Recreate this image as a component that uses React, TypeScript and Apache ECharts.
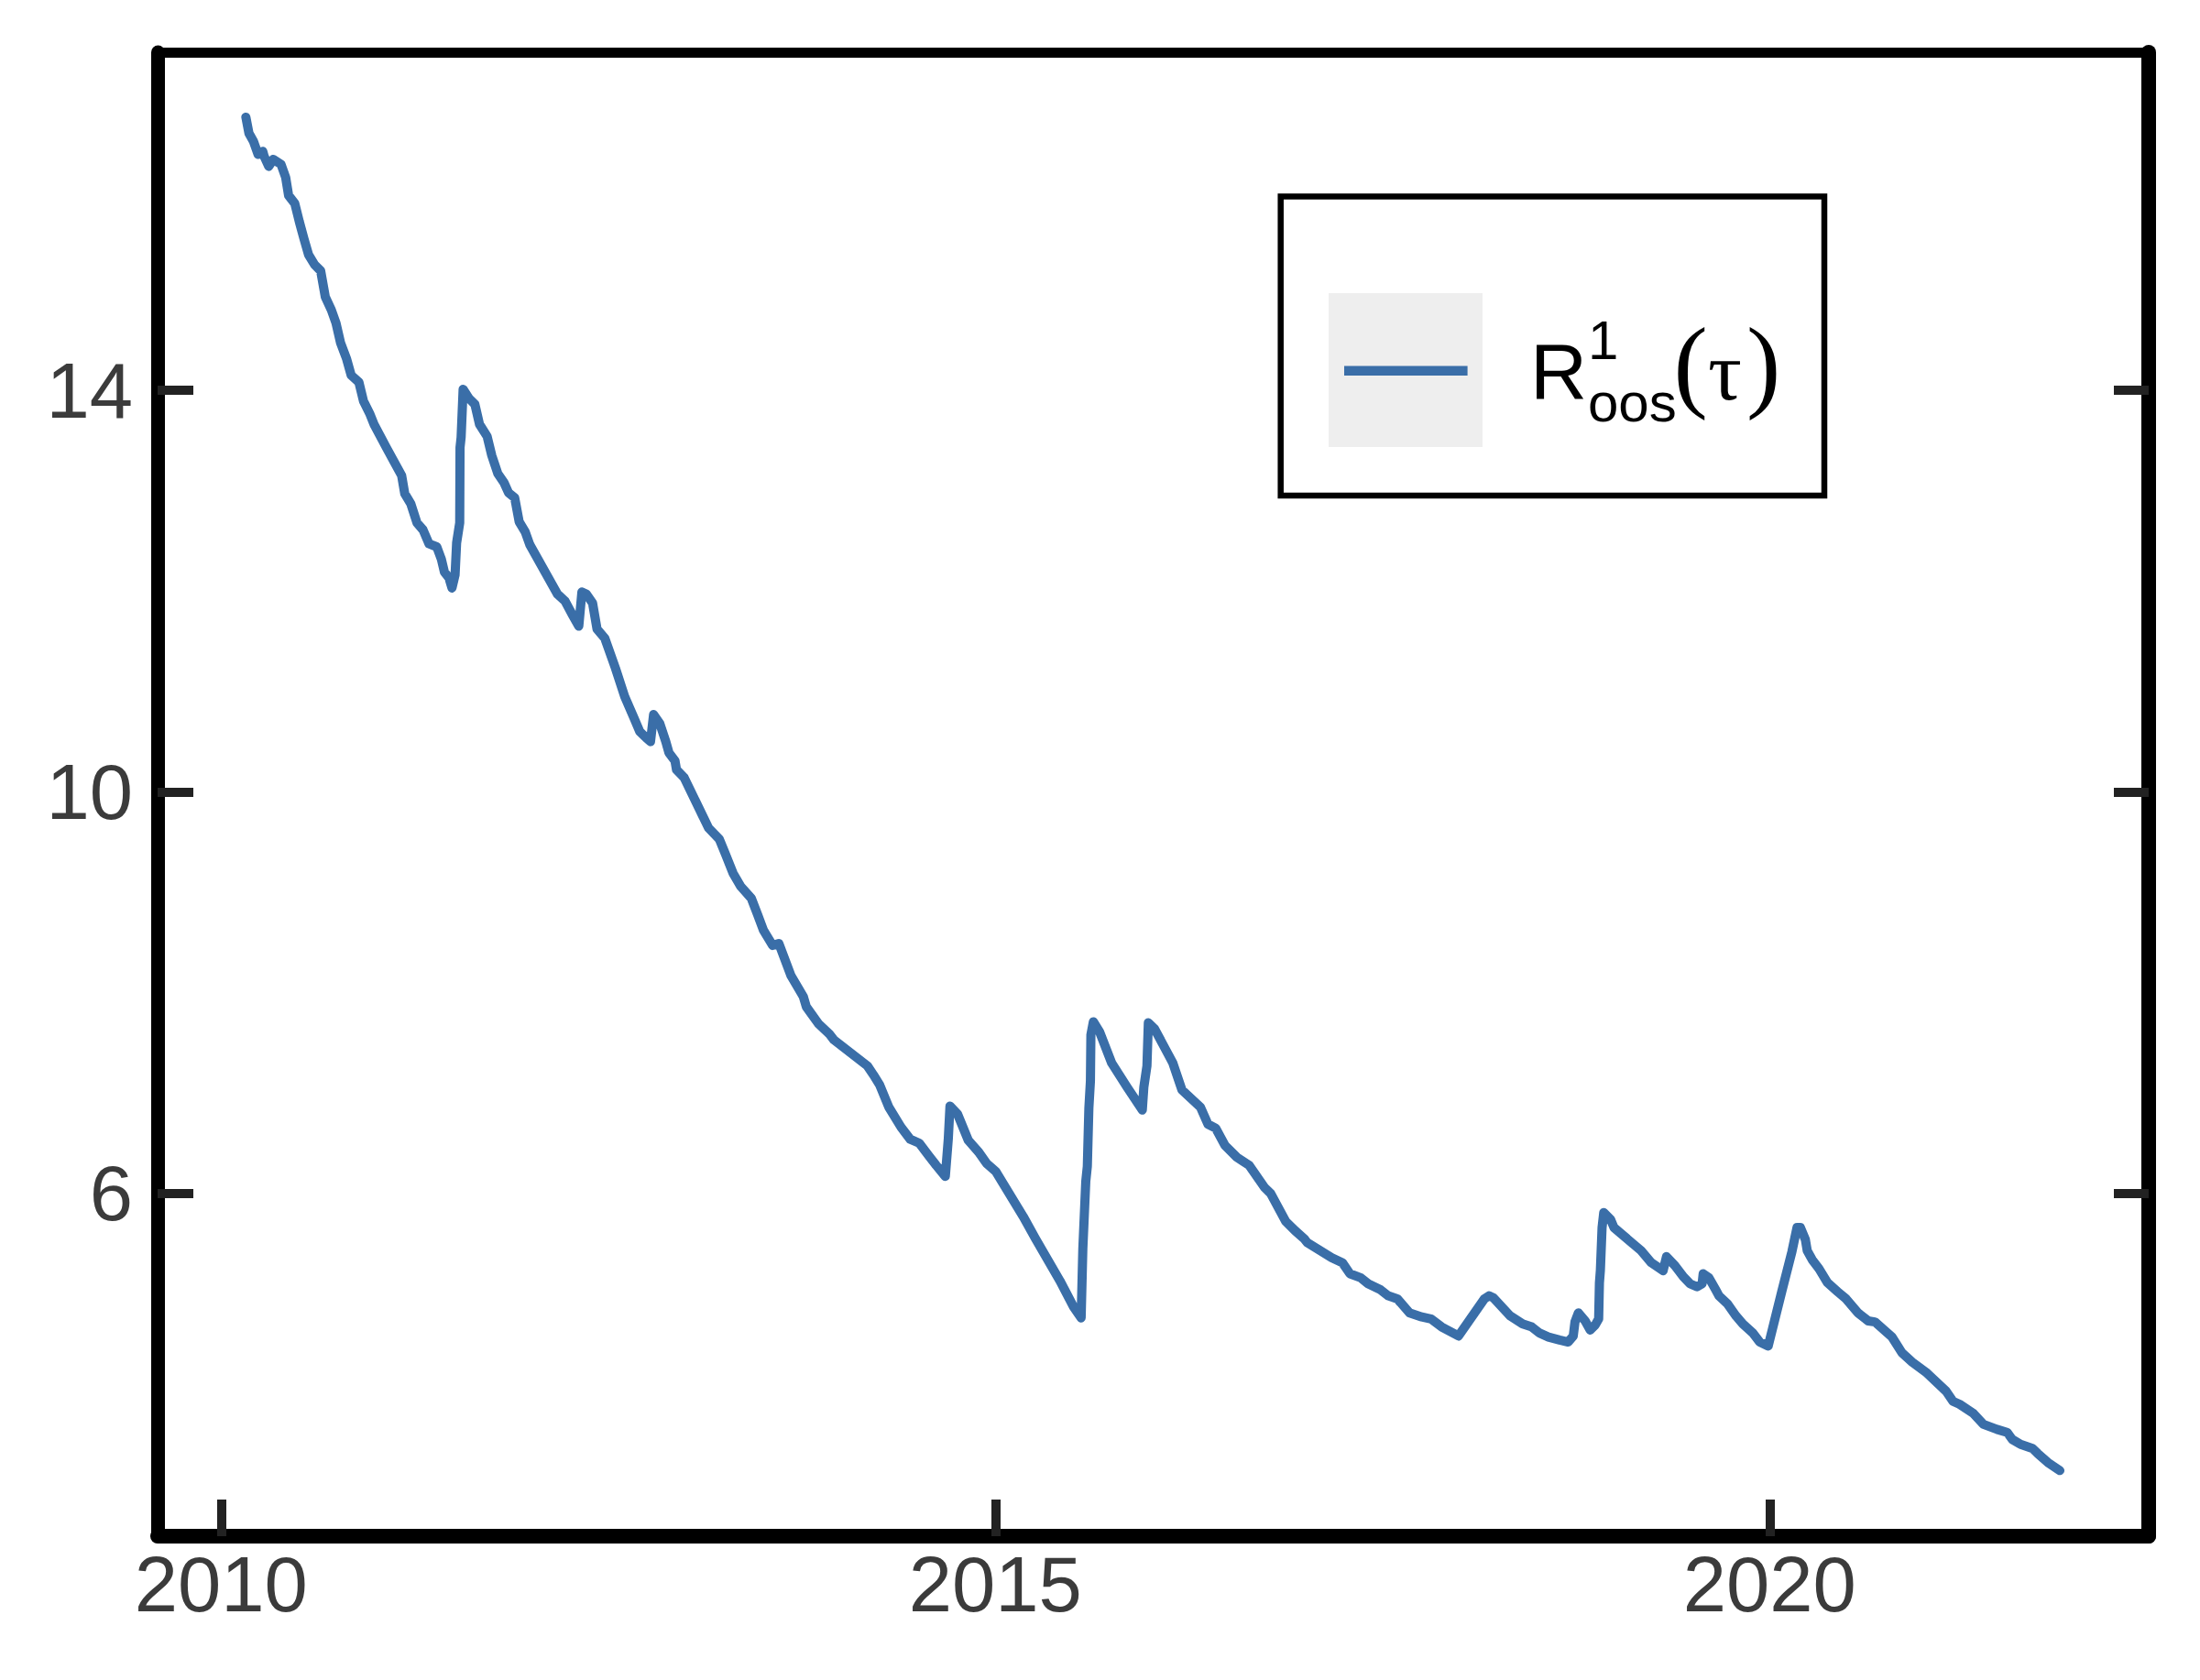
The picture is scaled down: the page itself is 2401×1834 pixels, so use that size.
import React, { useEffect, useRef } from "react";
import * as echarts from "echarts";

const years: number[] = [
  2010.160, 2010.180, 2010.209, 2010.239, 2010.269, 2010.278, 2010.308, 2010.337, 2010.387, 2010.417,
  2010.436, 2010.476, 2010.505, 2010.535, 2010.565, 2010.604, 2010.643, 2010.673, 2010.712, 2010.742,
  2010.772, 2010.811, 2010.840, 2010.890, 2010.920, 2010.959, 2010.988, 2011.067, 2011.166, 2011.186,
  2011.225, 2011.265, 2011.304, 2011.343, 2011.393, 2011.422, 2011.442, 2011.472, 2011.491, 2011.511,
  2011.521, 2011.541, 2011.543, 2011.550, 2011.563, 2011.600, 2011.639, 2011.669, 2011.718, 2011.748,
  2011.787, 2011.827, 2011.856, 2011.896, 2011.925, 2011.964, 2011.994, 2012.172, 2012.221, 2012.270,
  2012.310, 2012.330, 2012.359, 2012.399, 2012.428, 2012.478, 2012.547, 2012.606, 2012.665, 2012.704,
  2012.744, 2012.773, 2012.793, 2012.833, 2012.872, 2012.892, 2012.931, 2012.941, 2012.991, 2013.148,
  2013.217, 2013.257, 2013.306, 2013.355, 2013.424, 2013.464, 2013.503, 2013.562, 2013.602, 2013.641,
  2013.680, 2013.760, 2013.779, 2013.858, 2013.927, 2013.957, 2014.174, 2014.213, 2014.253, 2014.312,
  2014.391, 2014.450, 2014.509, 2014.568, 2014.618, 2014.677, 2014.696, 2014.707, 2014.756, 2014.825,
  2014.893, 2014.943, 2015.002, 2015.180, 2015.259, 2015.417, 2015.505, 2015.554, 2015.565, 2015.584,
  2015.594, 2015.604, 2015.614, 2015.617, 2015.633, 2015.673, 2015.751, 2015.850, 2015.949, 2015.959,
  2015.979, 2015.988, 2016.028, 2016.146, 2016.205, 2016.324, 2016.373, 2016.423, 2016.482, 2016.560,
  2016.639, 2016.738, 2016.778, 2016.876, 2016.935, 2016.994, 2017.014, 2017.172, 2017.241, 2017.290,
  2017.359, 2017.408, 2017.488, 2017.537, 2017.596, 2017.675, 2017.754, 2017.813, 2017.882, 2017.991,
  2018.158, 2018.188, 2018.217, 2018.325, 2018.405, 2018.464, 2018.513, 2018.572, 2018.644, 2018.699,
  2018.732, 2018.743, 2018.765, 2018.809, 2018.841, 2018.874, 2018.896, 2018.901, 2018.907, 2018.918,
  2018.929, 2018.973, 2018.995, 2019.170, 2019.236, 2019.312, 2019.334, 2019.389, 2019.443, 2019.487,
  2019.531, 2019.564, 2019.571, 2019.608, 2019.652, 2019.673, 2019.728, 2019.783, 2019.827, 2019.892,
  2019.936, 2019.991, 2020.078, 2020.144, 2020.177, 2020.199, 2020.231, 2020.243, 2020.275, 2020.319,
  2020.374, 2020.440, 2020.494, 2020.571, 2020.637, 2020.680, 2020.790, 2020.856, 2020.921, 2021.009,
  2021.140, 2021.184, 2021.227, 2021.315, 2021.381, 2021.468, 2021.534, 2021.567, 2021.621, 2021.698,
  2021.731, 2021.797, 2021.874,
];

const values: number[] = [
  16.72, 16.56, 16.48, 16.35, 16.38, 16.33, 16.23, 16.30, 16.25, 16.12,
  15.94, 15.86, 15.68, 15.51, 15.35, 15.25, 15.19, 14.93, 14.80, 14.67,
  14.47, 14.31, 14.15, 14.08, 13.89, 13.77, 13.66, 13.43, 13.15, 12.97,
  12.87, 12.68, 12.61, 12.47, 12.44, 12.32, 12.19, 12.13, 12.03, 12.16,
  12.48, 12.68, 13.43, 13.53, 14.01, 13.92, 13.86, 13.66, 13.54, 13.35,
  13.17, 13.08, 12.98, 12.93, 12.69, 12.59, 12.46, 11.97, 11.90, 11.76,
  11.65, 11.99, 11.97, 11.88, 11.62, 11.53, 11.23, 10.95, 10.74, 10.60,
  10.54, 10.50, 10.77, 10.68, 10.50, 10.39, 10.31, 10.22, 10.14, 9.64,
  9.53, 9.38, 9.19, 9.06, 8.94, 8.78, 8.62, 8.47, 8.49, 8.33,
  8.17, 7.96, 7.86, 7.69, 7.59, 7.53, 7.27, 7.18, 7.08, 6.86,
  6.66, 6.54, 6.50, 6.38, 6.28, 6.17, 6.54, 6.87, 6.79, 6.53,
  6.41, 6.30, 6.22, 5.77, 5.55, 5.13, 4.87, 4.76, 5.45, 6.12,
  6.27, 6.85, 7.12, 7.58, 7.71, 7.61, 7.30, 7.06, 6.83, 7.06,
  7.27, 7.70, 7.64, 7.30, 7.03, 6.86, 6.69, 6.65, 6.48, 6.36,
  6.28, 6.06, 6.00, 5.72, 5.63, 5.55, 5.51, 5.36, 5.31, 5.20,
  5.16, 5.10, 5.04, 4.98, 4.95, 4.81, 4.77, 4.75, 4.67, 4.58,
  4.95, 4.98, 4.96, 4.78, 4.70, 4.67, 4.61, 4.57, 4.54, 4.52,
  4.58, 4.72, 4.81, 4.73, 4.64, 4.69, 4.75, 5.11, 5.23, 5.66,
  5.81, 5.74, 5.66, 5.43, 5.31, 5.23, 5.37, 5.28, 5.17, 5.10,
  5.07, 5.10, 5.20, 5.16, 5.04, 4.98, 4.90, 4.78, 4.70, 4.61,
  4.52, 4.48, 5.02, 5.42, 5.66, 5.66, 5.54, 5.43, 5.34, 5.25,
  5.11, 5.02, 4.95, 4.81, 4.73, 4.72, 4.57, 4.41, 4.32, 4.22,
  4.03, 3.93, 3.90, 3.81, 3.70, 3.65, 3.62, 3.55, 3.50, 3.46,
  3.41, 3.32, 3.24,
];

const xTicks: number[] = [2010, 2015, 2020];
const yTicks: number[] = [6, 10, 14];

const X_MIN = 2009.59;
const X_MAX = 2022.448;
const Y_MIN = 2.586;
const Y_MAX = 17.367;

const LINE_COLOR = "#3a6ea8";
const LABEL_COLOR = "#3b3b3b";
const TICK_COLOR = "#222222";
const SANS = "'Liberation Sans', Arial, sans-serif";
const SERIF = "'Liberation Serif', 'Times New Roman', 'DejaVu Serif', serif";

export default function App() {
  const ref = useRef<HTMLDivElement>(null);

  useEffect(() => {
    if (!ref.current) return;
    const chart = echarts.init(ref.current, undefined, { renderer: "svg" });
    const data = years.map((y, i) => [y, values[i]]);

    const option: any = {
      animation: false,
      backgroundColor: "#ffffff",
      grid: { left: 172, right: 56, top: 57, bottom: 157, containLabel: false },
      xAxis: [
        {
          type: "value",
          position: "bottom",
          min: X_MIN,
          max: X_MAX,
          axisLine: { show: true, lineStyle: { color: "#000", width: 16 } },
          axisTick: {
            show: true,
            inside: true,
            length: 40,
            customValues: xTicks,
            lineStyle: { color: TICK_COLOR, width: 10 },
          },
          axisLabel: {
            show: true,
            customValues: xTicks,
            fontSize: 85,
            fontFamily: SANS,
            color: LABEL_COLOR,
            margin: 10,
            formatter: (v: number) => String(Math.round(v)),
          },
          splitLine: { show: false },
        },
        {
          type: "value",
          position: "top",
          min: X_MIN,
          max: X_MAX,
          axisLine: { show: true, lineStyle: { color: "#000", width: 11 } },
          axisTick: { show: false },
          axisLabel: { show: false },
          splitLine: { show: false },
        },
      ],
      yAxis: [
        {
          type: "value",
          position: "left",
          min: Y_MIN,
          max: Y_MAX,
          axisLine: { show: true, lineStyle: { color: "#000", width: 15 } },
          axisTick: {
            show: true,
            inside: true,
            length: 39,
            customValues: yTicks,
            lineStyle: { color: TICK_COLOR, width: 10 },
          },
          axisLabel: {
            show: true,
            customValues: yTicks,
            fontSize: 85,
            fontFamily: SANS,
            color: LABEL_COLOR,
            margin: 27,
            formatter: (v: number) => String(Math.round(v)),
          },
          splitLine: { show: false },
        },
        {
          type: "value",
          position: "right",
          min: Y_MIN,
          max: Y_MAX,
          axisLine: { show: true, lineStyle: { color: "#000", width: 16 } },
          axisTick: {
            show: true,
            inside: true,
            length: 38,
            customValues: yTicks,
            lineStyle: { color: TICK_COLOR, width: 10 },
          },
          axisLabel: { show: false },
          splitLine: { show: false },
        },
      ],
      series: [
        {
          type: "line",
          name: "Roos",
          xAxisIndex: 0,
          yAxisIndex: 0,
          data,
          showSymbol: false,
          symbol: "none",
          itemStyle: { color: LINE_COLOR },
          lineStyle: { color: LINE_COLOR, width: 10, join: "round", cap: "round" },
          emphasis: { disabled: true },
          z: 1,
        },
      ],
      graphic: [
        {
          type: "rect",
          shape: { x: 1397.7, y: 214.5, width: 593.3, height: 326.5 },
          style: { fill: "#ffffff", stroke: "#000", lineWidth: 6.5 },
          z: 10,
        },
        {
          type: "rect",
          shape: { x: 1450, y: 320, width: 168, height: 168 },
          style: { fill: "#eeeeee" },
          z: 11,
        },
        {
          type: "line",
          shape: { x1: 1467, y1: 404.7, x2: 1601.6, y2: 404.7 },
          style: { stroke: LINE_COLOR, lineWidth: 10.5 },
          z: 12,
        },
        {
          type: "text",
          x: 1670,
          y: 404.5,
          style: { text: "R", fill: "#000", fontSize: 86, fontFamily: SANS, align: "left", verticalAlign: "middle" },
          z: 12,
        },
        {
          type: "text",
          x: 1733,
          y: 371.9,
          style: { text: "1", fill: "#000", fontSize: 60, fontFamily: SANS, align: "left", verticalAlign: "middle" },
          z: 12,
        },
        {
          type: "text",
          x: 1733,
          y: 439.2,
          style: { text: "oos", fill: "#000", fontSize: 60, fontFamily: SANS, align: "left", verticalAlign: "middle" },
          z: 12,
        },
        {
          type: "text",
          x: 1826.6,
          y: 397.2,
          style: { text: "(", fill: "#000", fontSize: 112, fontFamily: SERIF, align: "left", verticalAlign: "middle" },
          z: 12,
        },
        {
          type: "text",
          x: 1864,
          y: 405,
          style: { text: "τ", fill: "#000", fontSize: 92, fontFamily: SERIF, align: "left", verticalAlign: "middle" },
          z: 12,
        },
        {
          type: "text",
          x: 1906,
          y: 397.2,
          style: { text: ")", fill: "#000", fontSize: 112, fontFamily: SERIF, align: "left", verticalAlign: "middle" },
          z: 12,
        },
      ],
    };

    chart.setOption(option);
    return () => {
      chart.dispose();
    };
  }, []);

  return (
    <div
      ref={ref}
      style={{ position: "absolute", left: 0, top: 0, width: 2401, height: 1834, background: "#fff" }}
    />
  );
}
